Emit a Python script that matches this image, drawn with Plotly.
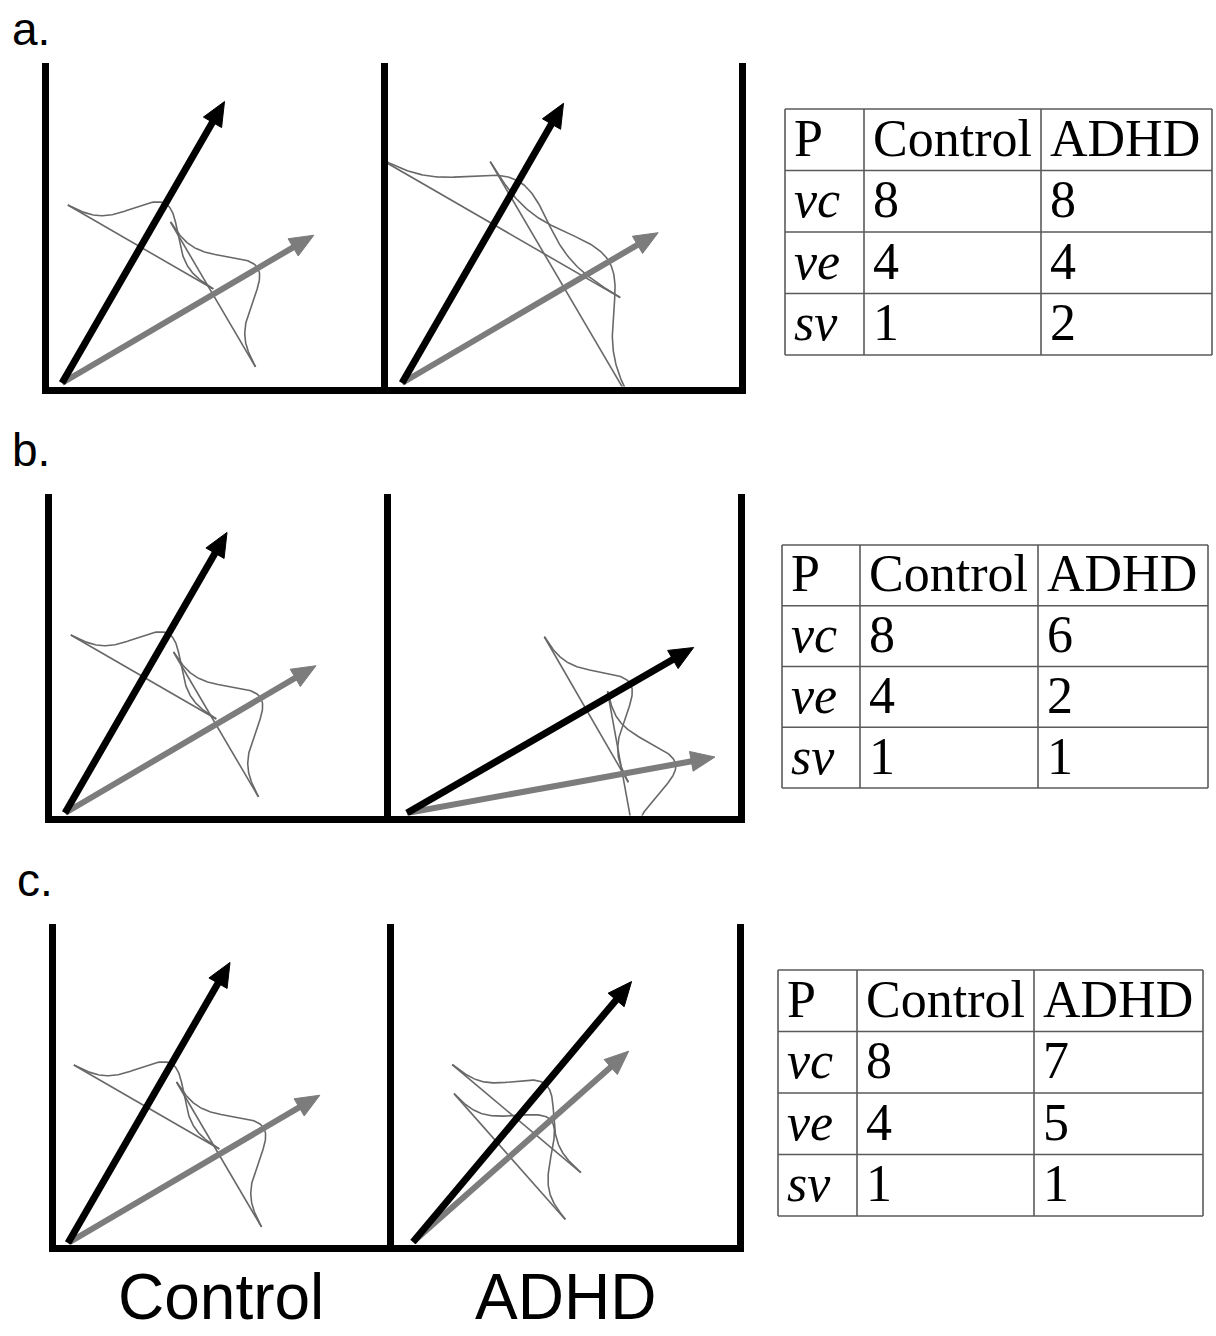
import numpy as np
import plotly.graph_objects as go

FIG_W, FIG_H = 1216, 1336

# ---------------- data ----------------
row_labels = ["a.", "b.", "c."]
groups = ["Control", "ADHD"]
header_labels = ["P", "Control", "ADHD"]
param_labels = ["<i>vc</i>", "<i>ve</i>", "<i>sv</i>"]
vc_control = [8, 8, 8]
vc_adhd = [8, 6, 7]
ve_control = [4, 4, 4]
ve_adhd = [4, 2, 5]
sv_control = [1, 1, 1]
sv_adhd = [2, 1, 1]

# schematic drift vectors per panel (a-Control, a-ADHD, b-Control, b-ADHD, c-Control, c-ADHD)
vc_angle_deg = [60.0, 60.0, 60.0, 30.0, 60.0, 50.0]
vc_length = [325, 323, 324, 331, 324, 340]
ve_angle_deg = [30.4, 30.4, 30.4, 10.3, 30.4, 41.5]
ve_length = [292, 297, 291, 313, 292, 288]
vc_dist_pos = [157, 183, 157, 207, 157, 161]
ve_dist_pos = [175, 188, 175, 219, 175, 129]
vc_dist_height = [50, 50, 50, 51, 50, 45]
ve_dist_height = [52, 52, 52, 54, 52, 55]

# ---------------- layout geometry (px) ----------------
frames = [  # left, mid, right, top, bottom (line centres)
    (45, 384, 742, 63, 390),
    (48, 387, 741, 494, 819),
    (52, 390, 740, 924, 1248),
]
origins = [(62, 383), (402, 383), (65, 813), (407, 813), (68, 1243), (413, 1242)]
label_pos = [(10, 29), (10, 450), (15, 880)]
tables = [  # left, right, top, bottom, column widths
    (785, 1212, 109, 355, [79, 177, 171]),
    (782, 1208, 545, 788, [78, 178, 170]),
    (778, 1203, 970, 1216, [79, 177, 169]),
]
LW = 7
BASE_HALF = 84
BLACK = "#000000"
GRAY = "#7c7c7c"
CURVE = "#686868"
TABLE_LINE = "#5a5a5a"
PAD = 3
TEXT_DROP = 3


def px2x(px):
    return px / FIG_W


def px2y(py):
    return 1 - py / FIG_H


fig = go.Figure()
layout = dict(
    width=FIG_W, height=FIG_H, margin=dict(l=0, r=0, t=0, b=0),
    paper_bgcolor="white", plot_bgcolor="rgba(0,0,0,0)", showlegend=False,
)


def axis_names(n):
    s = "" if n == 1 else str(n)
    return "xaxis" + s, "yaxis" + s, "x" + s, "y" + s


def add_arrow(ax, ay, ang, length, color, width, head_len, head_half):
    th = np.deg2rad(ang)
    d = np.array([np.cos(th), np.sin(th)])
    p = np.array([np.sin(th), -np.cos(th)])
    tip = length * d
    base = tip - head_len * d
    shaft_end = base + 2 * d
    fig.add_trace(go.Scatter(x=[0, shaft_end[0]], y=[0, shaft_end[1]], mode="lines",
                             line=dict(color=color, width=width),
                             xaxis=ax, yaxis=ay, hoverinfo="skip"))
    c1 = base + head_half * p
    c2 = base - head_half * p
    fig.add_trace(go.Scatter(x=[tip[0], c1[0], c2[0], tip[0]], y=[tip[1], c1[1], c2[1], tip[1]],
                             mode="lines", fill="toself", fillcolor=color,
                             line=dict(color=color, width=1),
                             xaxis=ax, yaxis=ay, hoverinfo="skip"))


def add_dist(ax, ay, ang, pos, height, sv):
    th = np.deg2rad(ang)
    d = np.array([np.cos(th), np.sin(th)])
    p = np.array([np.sin(th), -np.cos(th)])
    half = BASE_HALF * sv ** 0.8
    sigma = half / 3.3
    c = pos * d
    a = c - half * p
    b = c + half * p
    fig.add_trace(go.Scatter(x=[a[0], b[0]], y=[a[1], b[1]], mode="lines",
                             line=dict(color=CURVE, width=1.6),
                             xaxis=ax, yaxis=ay, hoverinfo="skip"))
    t = np.linspace(-half, half, 200)
    f = height * np.exp(-t ** 2 / (2 * sigma ** 2))
    pts = c[None, :] + t[:, None] * p[None, :] + f[:, None] * d[None, :]
    fig.add_trace(go.Scatter(x=pts[:, 0], y=pts[:, 1], mode="lines",
                             line=dict(color=CURVE, width=1.6),
                             xaxis=ax, yaxis=ay, hoverinfo="skip"))


sv_all = []
for r in range(3):
    sv_all += [sv_control[r], sv_adhd[r]]

# ---------------- diagram panels ----------------
for r in range(3):
    left, mid, right, top, bottom = frames[r]
    for g in range(2):
        k = 2 * r + g
        n = k + 1
        if g == 0:
            xl, xr = left + LW / 2, mid - LW / 2
        else:
            xl, xr = mid + LW / 2, right - LW / 2
        yt, yb = top, bottom - LW / 2
        ox, oy = origins[k]
        xname, yname, axx, axy = axis_names(n)
        layout[xname] = dict(domain=[px2x(xl), px2x(xr)], range=[xl - ox, xr - ox],
                             anchor=axy, showgrid=False, zeroline=False,
                             showticklabels=False, ticks="", showline=True,
                             linecolor=BLACK, linewidth=LW, fixedrange=True)
        layout[yname] = dict(domain=[px2y(yb), px2y(yt)], range=[oy - yb, oy - yt],
                             anchor=axx, showgrid=False, zeroline=False,
                             showticklabels=False, ticks="", showline=True,
                             mirror=(g == 1), linecolor=BLACK, linewidth=LW, fixedrange=True)
        add_dist(axx, axy, vc_angle_deg[k], vc_dist_pos[k], vc_dist_height[k], sv_all[k])
        add_dist(axx, axy, ve_angle_deg[k], ve_dist_pos[k], ve_dist_height[k], sv_all[k])
        add_arrow(axx, axy, ve_angle_deg[k], ve_length[k], GRAY, 6, 24, 10)
        add_arrow(axx, axy, vc_angle_deg[k], vc_length[k], BLACK, 7, 24, 10.5)

# ---------------- parameter tables ----------------
for r in range(3):
    n = 7 + r
    tl, tr, tt, tb, cw = tables[r]
    tw = tr - tl
    th_ = tb - tt
    scale = tw / sum(cw)
    col_edges = np.concatenate([[0], np.cumsum(cw)]) * scale
    rh = th_ / 4
    row_edges = np.arange(5) * rh
    xname, yname, axx, axy = axis_names(n)
    layout[xname] = dict(domain=[px2x(tl - PAD), px2x(tr + PAD)], range=[-PAD, tw + PAD],
                         anchor=axy, visible=False, fixedrange=True)
    layout[yname] = dict(domain=[px2y(tb + PAD), px2y(tt - PAD)], range=[th_ + PAD, -PAD],
                         anchor=axx, visible=False, fixedrange=True)
    lx, ly = [], []
    for yv in row_edges:
        lx += [0, tw, None]
        ly += [yv, yv, None]
    for xv in col_edges:
        lx += [xv, xv, None]
        ly += [0, th_, None]
    fig.add_trace(go.Scatter(x=lx, y=ly, mode="lines", line=dict(color=TABLE_LINE, width=1.6),
                             xaxis=axx, yaxis=axy, hoverinfo="skip"))
    columns = [
        [header_labels[0]] + param_labels,
        [header_labels[1]] + [str(v) for v in (vc_control[r], ve_control[r], sv_control[r])],
        [header_labels[2]] + [str(v) for v in (vc_adhd[r], ve_adhd[r], sv_adhd[r])],
    ]
    tx, ty, tt_ = [], [], []
    for c in range(3):
        for i in range(4):
            tx.append(col_edges[c] + 9)
            ty.append(row_edges[i] + rh / 2 + TEXT_DROP)
            tt_.append(columns[c][i])
    fig.add_trace(go.Scatter(x=tx, y=ty, text=tt_, mode="text", textposition="middle right",
                             textfont=dict(family="Liberation Serif", size=52, color="black"),
                             cliponaxis=False, xaxis=axx, yaxis=axy, hoverinfo="skip"))

# ---------------- labels ----------------
annotations = []
for r in range(3):
    lx, ly = label_pos[r]
    annotations.append(dict(text=row_labels[r], x=px2x(lx), y=px2y(ly), xref="paper", yref="paper",
                            xanchor="left", yanchor="middle", showarrow=False,
                            font=dict(family="Liberation Sans", size=46, color="black")))
for g in range(2):
    annotations.append(dict(text=groups[g], x=0.5, y=px2y(1297), xref=f"x{5 + g} domain", yref="paper",
                            xanchor="center", yanchor="middle", showarrow=False,
                            font=dict(family="Liberation Sans", size=64, color="black")))
layout["annotations"] = annotations
fig.update_layout(**layout)
fig.write_html("out.html")
